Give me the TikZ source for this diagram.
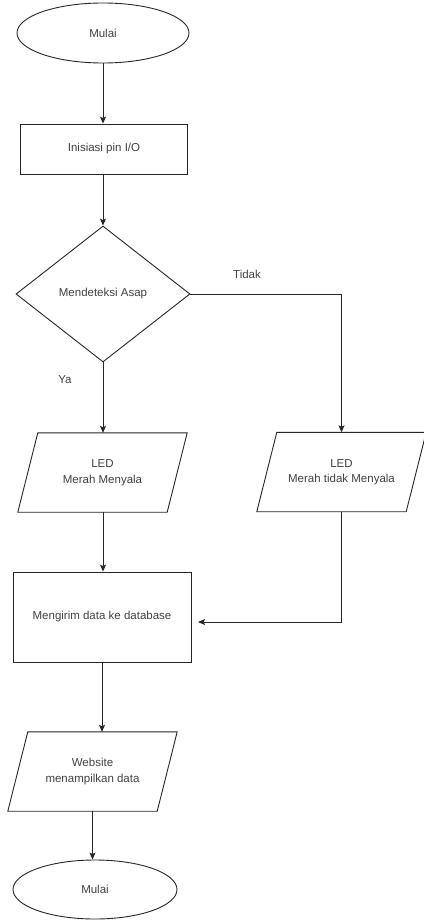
\documentclass[tikz,border=0pt]{standalone}
\usepackage{fontspec}
\setmainfont{Liberation Sans}
\usetikzlibrary{shapes.geometric,arrows.meta,calc}
\begin{document}
\begin{tikzpicture}[x=1pt,y=-1pt,
  every node/.style={font=\fontsize{11.5}{15.5}\selectfont, text=black!75},
  line/.style={draw=black!85, line width=0.9pt},
  arr/.style={line, -{Stealth[length=7pt,width=6pt,inset=1.5pt]}},
  term/.style={ellipse, draw=black!85, line width=0.9pt, inner sep=0pt, align=center},
  proc/.style={rectangle, draw=black!85, line width=0.9pt, inner sep=0pt, align=center},
  decis/.style={diamond, draw=black!85, line width=0.9pt, inner sep=0pt, minimum width=174pt, minimum height=136pt, align=center},
  iobox/.style={rectangle, inner sep=0pt, minimum width=169pt, minimum height=79pt, align=center},
  iodraw/.style={line, line join=miter}
]
\useasboundingbox (0,0) rectangle (423,920);

\node[term, minimum width=172pt, minimum height=60pt] (start) at (103,33) {Mulai};
\node[proc, minimum width=167pt, minimum height=50pt] (init) at (104,149) {Inisiasi pin I/O};
\node[decis] (dec) at (103,294) {Mendeteksi Asap};
\node[iobox] (p1) at (102.5,472.5) {LED\\Merah Menyala};
\node[iobox] (p2) at (341.5,472) {LED\\Merah tidak Menyala};
\node[proc, minimum width=178pt, minimum height=90pt] (send) at (102,617) {Mengirim data ke database};
\node[iobox] (p3) at (92.5,771.5) {Website\\menampilkan data};
\node[term, minimum width=164pt, minimum height=59pt] (stop) at (95,889.5) {Mulai};

\foreach \p in {p1,p2,p3}{
  \draw[iodraw] (\p.south west) -- ($(\p.north west)+(20,0)$) -- (\p.north east) -- ($(\p.south east)+(-20,0)$) -- cycle;
}

\node (tidak) at (247,274) {Tidak};
\node (ya) at (65,380) {Ya};

\coordinate (ret) at (198,622);

\draw[arr] (start.south) -- (start.south |- init.north);
\draw[arr] (dec.north |- init.south) -- (dec.north);
\draw[arr] (dec.south) -- (dec.south |- p1.north);
\draw[arr] (dec.east) -| (p2.north);
\draw[arr] (dec.south |- p1.south) -- (dec.south |- send.north);
\draw[arr] (p2.south) |- (ret);
\draw[arr] (send.south) -- (send.south |- p3.north);
\draw[arr] (p3.south) -- (p3.south |- stop.north);
\end{tikzpicture}
\end{document}
